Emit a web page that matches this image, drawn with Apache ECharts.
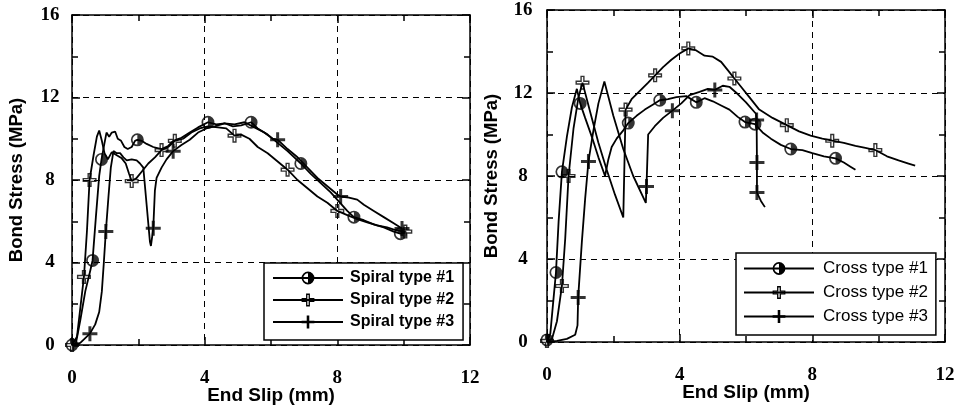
<!DOCTYPE html>
<html>
<head>
<meta charset="utf-8">
<script src="https://cdn.jsdelivr.net/npm/echarts@6/dist/echarts.min.js"></script>
<style>
  html, body { margin: 0; padding: 0; background: #fff; }
  #chart { width: 958px; height: 407px; }
</style>
</head>
<body>
<div id="chart"></div>
<script>
// bond stress vs end slip, spiral (left) and cross (right) specimens
const xTicks = [0, 4, 8, 12];
const yTicks = [0, 4, 8, 12, 16];

const spiralNames = ['Spiral type #1', 'Spiral type #2', 'Spiral type #3'];
const crossNames = ['Cross type #1', 'Cross type #2', 'Cross type #3'];

const spiral1 = [[0,0],[0.12,0.1],[0.25,1.2],[0.4,2.6],[0.55,3.6],[0.62,4.1],[0.72,6.2],[0.82,8.2],[0.89,9.0],[0.97,9.7],[1.04,10.3],[1.12,10.1],[1.2,10.3],[1.3,10.35],[1.38,10.0],[1.48,9.9],[1.58,9.6],[1.68,9.5],[1.8,9.6],[1.9,9.9],[1.97,9.95],[2.1,9.9],[2.25,9.75],[2.45,9.6],[2.7,9.5],[2.9,9.65],[3.05,9.9],[3.3,10.05],[3.55,10.3],[3.8,10.55],[4.1,10.8],[4.35,10.7],[4.6,10.75],[4.85,10.6],[5.1,10.65],[5.4,10.8],[5.6,10.5],[5.9,10.2],[6.2,9.8],[6.5,9.4],[6.9,8.8],[7.2,8.3],[7.5,7.85],[7.8,7.4],[8.05,6.95],[8.3,6.5],[8.5,6.2],[8.8,6.05],[9.1,5.85],[9.4,5.7],[9.7,5.5],[9.9,5.4],[10.05,5.45]];
const spiral2 = [[0,0],[0.15,0.4],[0.28,2.2],[0.36,3.3],[0.45,5.5],[0.53,8.0],[0.65,9.2],[0.75,10.1],[0.82,10.4],[0.9,9.9],[0.98,9.3],[1.08,9.0],[1.2,9.35],[1.35,9.2],[1.5,9.05],[1.62,8.8],[1.72,8.3],[1.8,7.95],[1.95,8.1],[2.1,8.4],[2.3,8.8],[2.5,9.1],[2.7,9.45],[2.9,9.6],[3.1,9.9],[3.35,10.0],[3.6,10.3],[3.85,10.5],[4.1,10.6],[4.4,10.55],[4.65,10.5],[4.9,10.15],[5.1,10.2],[5.35,10.0],[5.6,9.6],[5.9,9.3],[6.2,8.9],[6.5,8.5],[6.8,8.0],[7.1,7.6],[7.4,7.2],[7.7,6.9],[8.0,6.5],[8.3,6.3],[8.6,6.1],[8.9,5.95],[9.2,5.8],[9.5,5.7],[9.8,5.55],[10.05,5.5]];
const spiral3 = [[0,0],[0.25,0.1],[0.54,0.55],[0.7,1.0],[0.82,1.6],[0.9,2.6],[0.96,4.0],[1.02,5.5],[1.1,7.2],[1.17,8.6],[1.25,9.4],[1.35,9.3],[1.45,9.3],[1.55,9.1],[1.65,8.95],[1.8,9.0],[1.95,8.95],[2.05,8.8],[2.15,8.6],[2.25,6.8],[2.35,5.0],[2.38,4.8],[2.45,5.66],[2.5,7.5],[2.55,8.1],[2.7,8.6],[2.85,9.0],[3.05,9.4],[3.3,9.7],[3.55,9.95],[3.8,10.3],[4.05,10.5],[4.3,10.6],[4.6,10.75],[4.9,10.7],[5.2,10.8],[5.5,10.55],[5.8,10.3],[6.05,10.0],[6.2,9.95],[6.5,9.5],[6.8,9.1],[7.1,8.6],[7.4,8.1],[7.7,7.7],[8.0,7.3],[8.1,7.2],[8.35,7.15],[8.6,7.05],[8.8,6.8],[9.1,6.5],[9.4,6.2],[9.7,5.9],[9.95,5.65]];

const spiral1Marks = [[0,0],[0.62,4.1],[0.89,9.0],[1.97,9.95],[4.1,10.8],[5.4,10.8],[6.9,8.8],[8.5,6.2],[9.9,5.4]];
const spiral2Marks = [[0,0],[0.36,3.3],[0.53,8.0],[1.8,7.95],[2.7,9.45],[3.1,9.9],[4.9,10.15],[6.5,8.5],[8.0,6.5],[10.05,5.5]];
const spiral3Marks = [[0.54,0.55],[1.02,5.5],[2.45,5.66],[3.05,9.4],[6.2,9.95],[8.1,7.2],[9.95,5.65]];

const cross1 = [[0,0],[0.1,0.4],[0.18,1.8],[0.27,3.35],[0.35,5.8],[0.45,8.2],[0.6,9.9],[0.75,11.3],[0.9,12.2],[1.0,11.5],[1.15,10.8],[1.35,9.9],[1.55,8.9],[1.75,8.0],[1.85,8.8],[1.95,9.4],[2.1,9.8],[2.3,10.2],[2.45,10.55],[2.7,10.9],[2.95,11.2],[3.2,11.45],[3.4,11.65],[3.65,11.7],[3.9,11.8],[4.2,11.85],[4.5,11.55],[4.75,11.75],[5.0,11.6],[5.25,11.4],[5.5,11.2],[5.75,10.85],[5.97,10.6],[6.27,10.5],[6.5,10.1],[6.75,9.8],[7.05,9.5],[7.35,9.3],[7.7,9.25],[8.0,9.1],[8.35,8.95],[8.7,8.85],[8.95,8.65],[9.15,8.45],[9.3,8.3]];
const cross2 = [[0,0],[0.15,0.15],[0.3,1.0],[0.45,2.7],[0.55,5.0],[0.65,8.0],[0.8,10.3],[0.95,11.8],[1.07,12.5],[1.3,11.1],[1.55,9.6],[1.8,8.3],[2.05,7.1],[2.3,6.0],[2.37,11.2],[2.55,11.7],[2.8,12.1],[3.05,12.5],[3.26,12.85],[3.5,13.25],[3.75,13.6],[4.0,13.9],[4.26,14.15],[4.5,14.05],[4.75,13.8],[5.0,13.75],[5.25,13.5],[5.45,13.1],[5.65,12.7],[5.85,12.3],[6.1,11.8],[6.4,11.2],[6.8,10.8],[7.23,10.45],[7.6,10.15],[7.95,9.95],[8.3,9.8],[8.6,9.7],[8.95,9.6],[9.3,9.45],[9.6,9.35],[9.9,9.25],[10.25,8.95],[10.6,8.75],[10.9,8.6],[11.1,8.5]];
const cross3 = [[0,0],[0.3,0.05],[0.6,0.15],[0.85,0.35],[0.92,0.8],[0.94,2.15],[1.05,4.8],[1.15,6.9],[1.25,8.7],[1.4,10.2],[1.55,11.5],[1.73,12.55],[2.0,10.9],[2.3,9.3],[2.6,8.0],[2.98,6.7],[3.0,7.5],[3.05,10.0],[3.25,10.4],[3.5,10.8],[3.78,11.15],[4.05,11.5],[4.3,11.9],[4.6,12.05],[4.85,12.2],[5.06,12.15],[5.3,12.35],[5.5,12.3],[5.75,11.95],[6.0,11.55],[6.3,11.0],[6.32,10.7],[6.33,8.65],[6.33,7.2],[6.45,6.8],[6.57,6.5]];

const cross1Marks = [[0,0.1],[0.27,3.35],[0.45,8.2],[1.0,11.5],[2.45,10.55],[3.4,11.65],[4.5,11.55],[5.97,10.6],[6.27,10.5],[7.35,9.3],[8.7,8.85]];
const cross2Marks = [[0,0.05],[0.45,2.7],[0.65,8.0],[1.07,12.5],[2.37,11.2],[3.26,12.85],[4.26,14.15],[5.65,12.7],[7.23,10.45],[8.6,9.7],[9.9,9.25]];
const cross3Marks = [[0.94,2.15],[1.25,8.7],[3.0,7.5],[3.78,11.15],[5.06,12.15],[6.32,10.7],[6.33,8.65],[6.33,7.2]];

// marker shapes: half filled circle, open cross, solid cross
const halfCircle = 'path://M10,0 A10,10 0 1,1 10,20 A10,10 0 1,1 10,0 Z M10,2.6 A7.4,7.4 0 0,0 10,17.4 Z';
const openCross = 'path://M7,0 L13,0 L13,7 L20,7 L20,13 L13,13 L13,20 L7,20 L7,13 L0,13 L0,7 L7,7 Z M9,2 L9,9 L2,9 L2,11 L9,11 L9,18 L11,18 L11,11 L18,11 L18,9 L11,9 L11,2 Z';
const solidCross = 'path://M8,0 L12,0 L12,8 L20,8 L20,12 L12,12 L12,20 L8,20 L8,12 L0,12 L0,8 L8,8 Z';
const symbols = [halfCircle, openCross, solidCross];
const symbolSizes = [13, 14, 15];

const grids = [
    { left: 72, top: 15, width: 398, height: 330, outerBoundsMode: 'none', containLabel: false },
    { left: 547, top: 10, width: 398, height: 332, outerBoundsMode: 'none', containLabel: false },
];

const black = '#000';

function tickOpts() {
    return { show: true, inside: true, length: 8, lineStyle: { color: black, width: 1.5 } };
}

function minorOpts() {
    return { show: true, splitNumber: 2, length: 6, lineStyle: { color: black, width: 1.5 } };
}

function makeXAxes(gi) {
    return [{
        gridIndex: gi, type: 'value', min: xTicks[0], max: xTicks[xTicks.length - 1], interval: 4,
        axisLine: { show: true, onZero: false, lineStyle: { color: black, width: 1.5 } },
        axisTick: tickOpts(), minorTick: minorOpts(),
        axisLabel: { color: black, fontFamily: 'Liberation Serif', fontWeight: 'bold', fontSize: 19, margin: 24 },
        splitLine: { show: true, lineStyle: { color: black, width: 1, type: [6, 5] } },
        name: 'End Slip (mm)', nameLocation: 'middle', nameGap: 41, nameMoveOverlap: false,
        nameTextStyle: { color: black, fontFamily: 'Liberation Sans', fontWeight: 'bold', fontSize: 19 },
    }, {
        gridIndex: gi, type: 'value', position: 'top', min: xTicks[0], max: xTicks[xTicks.length - 1], interval: 4,
        axisLine: { show: true, onZero: false, lineStyle: { color: black, width: 1.5 } },
        axisTick: tickOpts(), minorTick: minorOpts(),
        axisLabel: { show: false }, splitLine: { show: false },
    }];
}

function makeYAxes(gi, labelMargin) {
    return [{
        gridIndex: gi, type: 'value', min: yTicks[0], max: yTicks[yTicks.length - 1], interval: 4,
        axisLine: { show: true, onZero: false, lineStyle: { color: black, width: 1.5 } },
        axisTick: tickOpts(), minorTick: minorOpts(),
        axisLabel: { color: black, fontFamily: 'Liberation Serif', fontWeight: 'bold', fontSize: 19, margin: labelMargin, align: 'center' },
        splitLine: { show: true, lineStyle: { color: black, width: 1, type: [6, 5] } },
        name: 'Bond Stress (MPa)', nameLocation: 'middle', nameGap: 46, nameMoveOverlap: false,
        nameTextStyle: { color: black, fontFamily: 'Liberation Sans', fontWeight: 'bold', fontSize: 18.5 },
    }, {
        gridIndex: gi, type: 'value', position: 'right', min: yTicks[0], max: yTicks[yTicks.length - 1], interval: 4,
        axisLine: { show: true, onZero: false, lineStyle: { color: black, width: 1.5 } },
        axisTick: tickOpts(), minorTick: minorOpts(),
        axisLabel: { show: false }, splitLine: { show: false },
    }];
}

function lineSeries(name, data, axisIdx, k) {
    return {
        name: name, type: 'line', data: data,
        xAxisIndex: axisIdx, yAxisIndex: axisIdx,
        showSymbol: false, symbol: symbols[k], symbolKeepAspect: true,
        itemStyle: { color: black },
        lineStyle: { color: black, width: 1.8 },
        animation: false, z: 2,
    };
}

function markSeries(name, data, axisIdx, k) {
    return {
        name: name + ' marks', type: 'scatter', data: data,
        xAxisIndex: axisIdx, yAxisIndex: axisIdx,
        symbol: symbols[k], symbolSize: symbolSizes[k], symbolKeepAspect: true,
        itemStyle: { color: black },
        animation: false, z: 3,
    };
}

const spiralLines = [spiral1, spiral2, spiral3];
const spiralMarks = [spiral1Marks, spiral2Marks, spiral3Marks];
const crossLines = [cross1, cross2, cross3];
const crossMarks = [cross1Marks, cross2Marks, cross3Marks];

const series = [];
spiralNames.forEach((n, k) => {
    series.push(lineSeries(n, spiralLines[k], 0, k));
    series.push(markSeries(n, spiralMarks[k], 0, k));
});
crossNames.forEach((n, k) => {
    series.push(lineSeries(n, crossLines[k], 2, k));
    series.push(markSeries(n, crossMarks[k], 2, k));
});

const chart = echarts.init(document.getElementById('chart'), null, { renderer: 'canvas' });
chart.setOption({
    backgroundColor: '#fff',
    animation: false,
    grid: grids,
    xAxis: [...makeXAxes(0), ...makeXAxes(1)],
    yAxis: [...makeYAxes(0, 22), ...makeYAxes(1, 24)],
    legend: [{
        data: spiralNames, orient: 'vertical', left: 264, top: 263,
        itemWidth: 70, itemHeight: 16, itemGap: 6,
        padding: [7, 9, 10, 8], selectedMode: false,
        backgroundColor: '#fff', borderColor: black, borderWidth: 1.5,
        textStyle: { color: black, fontFamily: 'Liberation Sans', fontWeight: 'bold', fontSize: 16, padding: [0, 0, 0, 2] },
    }, {
        data: crossNames, orient: 'vertical', left: 736, top: 253,
        itemWidth: 70, itemHeight: 16, itemGap: 7,
        padding: [7, 8, 10, 7], selectedMode: false,
        backgroundColor: '#fff', borderColor: black, borderWidth: 1.5,
        textStyle: { color: black, fontFamily: 'Liberation Sans', fontSize: 17, padding: [0, 0, 0, 4] },
    }],
    series: series,
});
</script>
</body>
</html>
